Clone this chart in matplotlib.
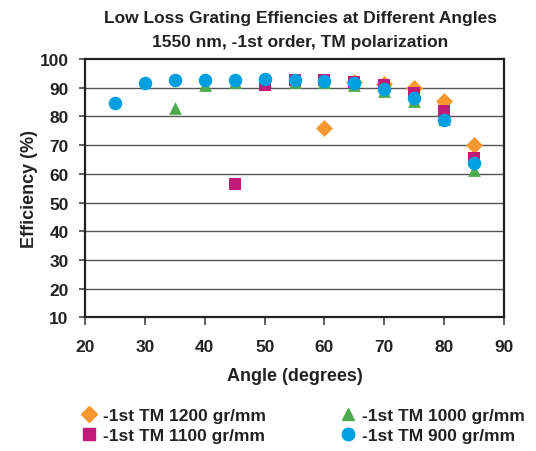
import matplotlib
matplotlib.use("Agg")
import matplotlib.pyplot as plt
from matplotlib.lines import Line2D

plt.rcParams['font.family'] = ['Liberation Sans Narrow', 'Liberation Sans', 'DejaVu Sans']

# data
ang_1200 = [60, 65, 70, 75, 80, 85]
eff_1200 = [76.1, 92.0, 91.4, 90.0, 85.3, 70.2]

ang_1000 = [35, 40, 45, 50, 55, 60, 65, 70, 75, 80, 85]
eff_1000 = [83.1, 90.8, 91.9, 92.4, 92.0, 92.0, 91.0, 88.8, 85.3, 79.2, 61.2]

ang_1100 = [45, 50, 55, 60, 65, 70, 75, 80, 85]
eff_1100 = [56.3, 90.8, 92.7, 92.7, 92.0, 90.9, 88.2, 81.8, 65.4]

ang_900 = [25, 30, 35, 40, 45, 50, 55, 60, 65, 70, 75, 80, 85]
eff_900 = [84.8, 91.8, 92.8, 92.7, 92.7, 93.1, 92.7, 92.5, 91.5, 89.5, 86.5, 78.9, 63.8]

c_orange = '#F7982F'
c_green = '#4FAA4E'
c_mag = '#C21A78'
c_blue = '#00A0E0'

fig = plt.figure(figsize=(5.36, 4.52), dpi=100)
ax = fig.add_axes([0.159, 0.296, 0.781, 0.571])

for yv in range(20, 100, 10):
    ax.axhline(yv, color='#555555', lw=1.0, zorder=0)

ax.scatter(ang_1200, eff_1200, marker='D', s=75, color=c_orange, zorder=3, linewidths=0)
ax.scatter(ang_1000, eff_1000, marker='^', s=85, color=c_green, zorder=4, linewidths=0)
ax.scatter(ang_1100, eff_1100, marker='s', s=85, color=c_mag, zorder=5, linewidths=0)
ax.scatter(ang_900, eff_900, marker='o', s=95, color=c_blue, zorder=6, linewidths=0)

ax.set_xlim(20, 90)
ax.set_ylim(10, 100)
ax.set_xticks(range(20, 91, 10))
ax.set_yticks(range(10, 101, 10))
for sp in ax.spines.values():
    sp.set_linewidth(1.6)
    sp.set_color('#222222')
ax.tick_params(axis='x', length=6, width=1.2, labelsize=12.5, pad=10, color='#444444')
ax.tick_params(axis='y', length=4, width=1.2, labelsize=12.5, pad=8, color='#444444')
for lab in ax.get_xticklabels() + ax.get_yticklabels():
    lab.set_fontweight('bold')
    lab.set_color('#222222')

ax.set_xlabel('Angle (degrees)', fontsize=13, fontweight='bold', labelpad=9, color='#222222')
ax.set_ylabel('Efficiency (%)', fontsize=13, fontweight='bold', labelpad=1, color='#222222')
fig.text(0.56, 0.960, 'Low Loss Grating Effiencies at Different Angles', ha='center', va='center',
         fontsize=12.5, fontweight='bold', color='#222222')
fig.text(0.56, 0.907, '1550 nm, -1st order, TM polarization', ha='center', va='center',
         fontsize=12.5, fontweight='bold', color='#222222')

handles = [
    Line2D([], [], marker='D', color=c_orange, ls='', ms=8),
    Line2D([], [], marker='s', color=c_mag, ls='', ms=8),
    Line2D([], [], marker='^', color=c_green, ls='', ms=9),
    Line2D([], [], marker='o', color=c_blue, ls='', ms=9),
]
labels = ['-1st TM 1200 gr/mm', '-1st TM 1100 gr/mm', '-1st TM 1000 gr/mm', '-1st TM 900 gr/mm']
leg = fig.legend(handles, labels, ncol=2, loc='lower center', bbox_to_anchor=(0.563, -0.017),
                 frameon=False, prop={'weight': 'bold', 'size': 12.5},
                 handletextpad=0.2, columnspacing=4.1, labelspacing=0.3, handlelength=1.2)
for t in leg.get_texts():
    t.set_color('#222222')

fig.savefig('out.png', dpi=100)
